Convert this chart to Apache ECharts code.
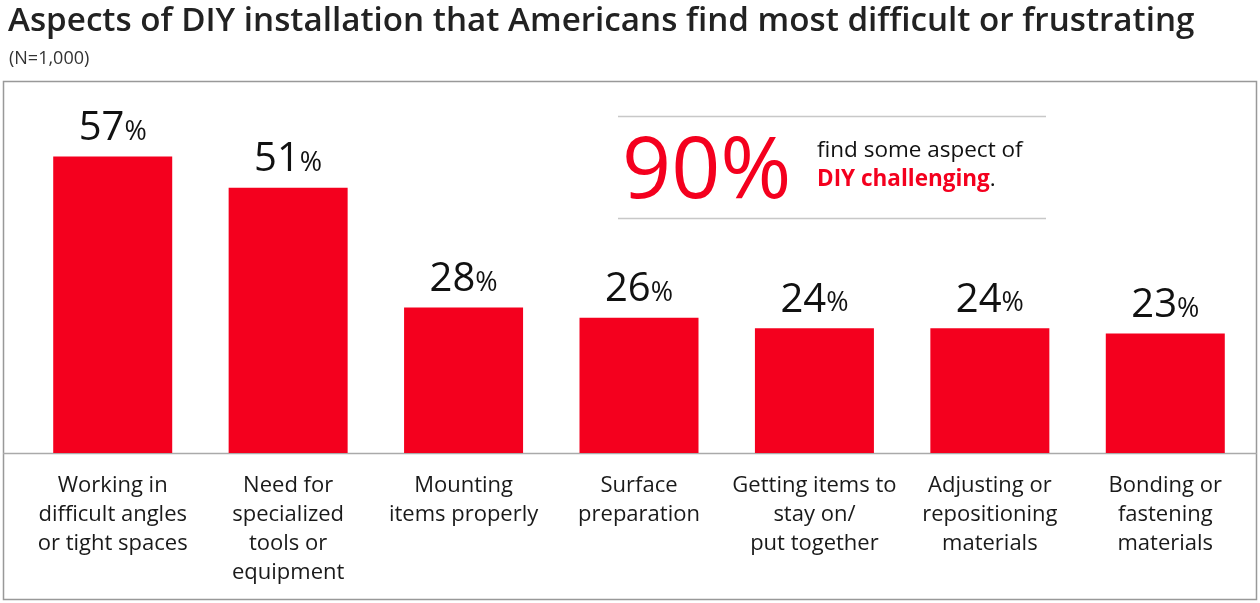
<!DOCTYPE html>
<html><head><meta charset="utf-8">
<script src="https://cdn.jsdelivr.net/npm/echarts@6/dist/echarts.min.js"></script>
<style>html,body{margin:0;padding:0;background:#fff}#c{width:1260px;height:603px}</style>
</head><body><div id="c"></div>
<script>
const categories = [
  "Working in\ndifficult angles\nor tight spaces",
  "Need for\nspecialized\ntools or\nequipment",
  "Mounting\nitems properly",
  "Surface\npreparation",
  "Getting items to\nstay on/\nput together",
  "Adjusting or\nrepositioning\nmaterials",
  "Bonding or\nfastening\nmaterials"
];
const values = [57, 51, 28, 26, 24, 24, 23];
const headline = "90%";

const RED = '#F4001E';
const FONT = 'Open Sans';
const chart = echarts.init(document.getElementById('c'));
chart.setOption({
  animation: false,
  textStyle: { fontFamily: FONT },
  title: [
    { text: 'Aspects of DIY installation that Americans find most difficult or frustrating', left: 3, top: 0,
      textStyle: { fontFamily: FONT, fontSize: 33.2, fontWeight: 600, color: '#222' } },
    { text: '(N=1,000)', left: 4, top: 45, textStyle: { fontFamily: FONT, fontSize: 18, fontWeight: 'normal', color: '#333' } }
  ],
  grid: { left: 25, right: 7, top: 141, bottom: 150 },
  xAxis: {
    type: 'category', data: categories,
    axisLine: { show: false }, axisTick: { show: false },
    axisLabel: { interval: 0, margin: 18, fontSize: 22, lineHeight: 29, color: '#1a1a1a', fontFamily: FONT }
  },
  yAxis: { type: 'value', min: 0, max: 60, show: false, splitLine: { show: false } },
  series: [{
    type: 'bar', data: values, barWidth: 119,
    itemStyle: { color: RED },
    label: {
      show: true, position: 'top', distance: 8,
      formatter: p => '{n|' + p.value + '}{p|%}',
      rich: {
        n: { fontSize: 40, color: '#111', fontFamily: FONT },
        p: { fontSize: 27, color: '#111', fontFamily: FONT, padding: [7, 0, 0, 0] }
      }
    }
  }],
  graphic: [
    { type: 'rect', shape: { x: 3.5, y: 81.5, width: 1253, height: 518 }, style: { fill: 'none', stroke: '#999', lineWidth: 1.5 }, z: -1 },
    { type: 'line', shape: { x1: 3, y1: 453.5, x2: 1257, y2: 453.5 }, style: { stroke: '#aaa', lineWidth: 1.5 } },
    { type: 'line', shape: { x1: 618, y1: 116.5, x2: 1046, y2: 116.5 }, style: { stroke: '#c8c8c8', lineWidth: 1.5 } },
    { type: 'line', shape: { x1: 618, y1: 218.5, x2: 1046, y2: 218.5 }, style: { stroke: '#c8c8c8', lineWidth: 1.5 } },
    { type: 'text', left: 622, top: 130, style: { text: headline, fill: RED, font: '86px "Open Sans"' } },
    { type: 'text', left: 817, top: 139, style: { text: 'find some aspect of', fill: '#111', font: '22.5px "Open Sans"' } },
    { type: 'text', left: 817, top: 168, style: {
        text: '{r|DIY challenging}{k|.}',
        rich: { r: { fill: RED, fontWeight: 'bold', fontSize: 22.5, fontFamily: FONT },
                k: { fill: '#111', fontSize: 22.5, fontFamily: FONT } } } }
  ]
});
</script></body></html>
